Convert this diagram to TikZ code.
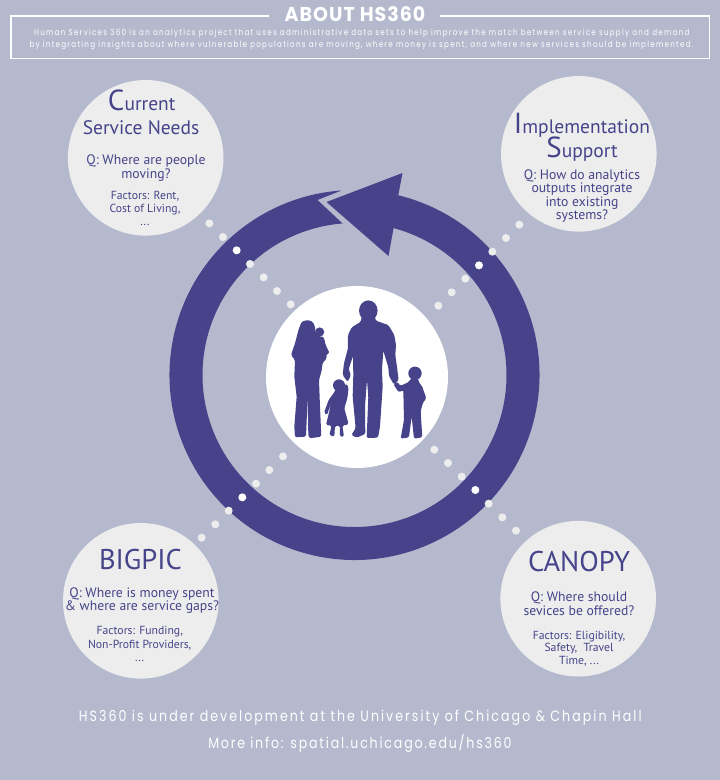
\documentclass[tikz,border=0pt]{standalone}
\usepackage{fontspec}
\setmainfont{PT Sans}
\newfontfamily\hdfont[FakeStretch=0.95,LetterSpace=5]{Poppins}
\newfontfamily\bodyfont[FakeStretch=0.84,LetterSpace=15]{Poppins}
\newfontfamily\footfont[FakeStretch=0.84,LetterSpace=13.6]{Poppins}
\newfontfamily\footfontb[FakeStretch=0.84,LetterSpace=12]{Poppins}
\definecolor{bgc}{HTML}{B4B9CD}
\definecolor{pur}{HTML}{46438A}
\definecolor{pale}{HTML}{EDEDED}
\newcommand{\fs}[2]{\fontsize{#1}{#2}\selectfont}
\newcommand{\initial}[1]{{\fontsize{29}{30}\selectfont #1}}
\tikzset{
 bubble/.style={circle,fill=pale,inner sep=0pt,minimum size=155.6pt},
 tline/.style={text=pur,anchor=base,inner sep=0pt},
 tt/.style={tline,font=\fs{19.5}{22}},
 tn/.style={tline,font=\fs{28.5}{30}},
 tq/.style={tline,font=\fs{13.7}{15}},
 tf/.style={tline,font=\fs{11.7}{13}},
 wtext/.style={text=white,anchor=base,inner sep=0pt},
 dotp/.style={circle,fill=pale,inner sep=0pt,minimum size=8pt},
 dotw/.style={circle,fill=white,inner sep=0pt,minimum size=8pt},
 sil/.style={fill=pur,draw=none,rounded corners=1.5pt}
}
\begin{document}
\begin{tikzpicture}[x=1pt,y=-1pt]
\useasboundingbox (0,0) rectangle (720,780);
\fill[bgc] (0,0) rectangle (720,780);
% frame
\coordinate (fa) at (268.6,15.7);
\coordinate (fb) at (10.6,15.7);
\coordinate (fc) at (10.6,58.5);
\coordinate (fd) at (709.4,58.5);
\coordinate (fe) at (709.4,15.7);
\coordinate (ff) at (440,15.7);
\draw[white,line width=1.8pt] (fa) -- (fb) -- (fc) -- (fd) -- (fe) -- (ff);
\node[wtext] (title) at (355,21.7) {\hdfont\bfseries\fs{20}{24}ABOUT HS360};
\node[wtext] (b1) at (361.8,35.7) {\bodyfont\fs{8.5}{10}Human Services 360 is an analytics project that uses administrative data sets to help improve the match between service supply and demand};
\node[wtext] (b2) at (361.5,47.3) {\bodyfont\fs{8.5}{10}by integrating insights about where vulnerable populations are moving, where money is spent, and where new services should be implemented.};
% bubbles
\node[bubble] (cur) at (145.7,157.8) {};
\node[bubble] (imp) at (578.8,153.8) {};
\node[bubble] (big) at (140.8,600.8) {};
\node[bubble] (can) at (578.2,598.7) {};
% ring
\begin{scope}[shift={(354.5,375)},x=1pt,y=1pt]
\fill[pur] (76.3:185) arc[start angle=76.3,end angle=-266,radius=185pt]
  -- (-37,175) -- (94.5:152) arc[start angle=94.5,end angle=435.1,radius=152pt]
  -- (34,119) -- (-28,173) -- (48,202) -- cycle;
\end{scope}
% centre
\node[circle,fill=white,inner sep=0pt,minimum size=182pt] (mid) at (357,377) {};
% dots
\foreach \n/\x/\y in {a/178/190,b/219/231,d/300/312,e/341/352,f/381/393,g/422/433,
 h/1108/194,i/1068/234,j/1027/275,l/946/356,m/905/397,n/865/437,
 o/155/1133,p/196/1093,q/236/1052,s/318/971,t/358/930,u/399/889,
 v/853/869,w/894/909,x/935/950,z/1016/1031,y/1057/1072,k/1098/1112}
 \node[dotp] (dot\n) at ({150+\x/3},{160+\y/3}) {};
\foreach \n/\x/\y in {a/260/271,b/987/316,c/277/1012,d/976/990}
 \node[dotw] (wdot\n) at ({150+\x/3},{160+\y/3}) {};
% silhouettes
\begin{scope}[shift={(260,280)},x=0.3333pt,y=-0.3333pt]
% woman + baby
\fill[sil] (143,120) -- (158,125) -- (165,140) -- (167,162) -- (178,170) -- (191,170) -- (197,195) -- (209,220) -- (199,222) -- (200,236) -- (188,248) -- (185,272) -- (177,300) -- (180,380) -- (184,470) -- (148,475) -- (145,465) -- (143,350) -- (138,470) -- (105,472) -- (103,440) -- (110,350) -- (103,290) -- (105,240) -- (93,225) -- (105,190) -- (116,148) -- (125,125) -- cycle;
\fill[sil] (179,156) circle[radius=4.6pt];
% man
\fill[sil] (325,92) ellipse[x radius=9.3pt,y radius=10.3pt];
\fill[sil] (345,108) -- (347,122) -- (385,135) -- (403,165) -- (408,195) -- (406,225) -- (412,268) -- (416,300) -- (402,314) -- (387,288) -- (385,262) -- (370,212) -- (366,270) -- (368,320) -- (360,440) -- (354,473) -- (320,474) -- (325,350) -- (321,300) -- (315,380) -- (316,462) -- (290,473) -- (274,465) -- (287,445) -- (278,350) -- (280,285) -- (279,228) -- (266,268) -- (273,285) -- (263,306) -- (248,285) -- (252,250) -- (264,205) -- (264,165) -- (275,142) -- (303,125) -- (305,108) -- cycle;
% girl
\fill[sil] (237,316) circle[radius=6pt];
\fill[sil] (250,322) -- (258,310) -- (266,322) -- (262,355) -- (253,385) -- (266,433) -- (247,437) -- (252,470) -- (240,470) -- (240,438) -- (225,438) -- (223,470) -- (208,465) -- (215,437) -- (198,435) -- (214,368) -- (201,405) -- (192,398) -- (207,358) -- (223,337) -- (228,325) -- cycle;
% boy
\fill[sil] (465,280) circle[radius=6.7pt];
\fill[sil] (475,295) -- (477,308) -- (486,318) -- (499,355) -- (488,370) -- (482,395) -- (487,472) -- (462,476) -- (455,410) -- (447,472) -- (422,476) -- (432,420) -- (430,330) -- (416,337) -- (400,312) -- (412,305) -- (421,318) -- (448,305) -- (452,295) -- cycle;
\end{scope}
% bubble texts
\node[tt] (t1a) at (141.7,110.7) {\initial{C}urrent};
\node[tt] (t1b) at (141,134) {Service Needs};
\node[tq] (t1q) at (146,164) {Q: Where are people};
\node[tq] (t1r) at (146,178) {moving?};
\node[tf] (t1f) at (145,199) {Factors: Rent,};
\node[tf] (t1g) at (145,212) {Cost of Living,};
\node[tf] (t1h) at (145,225) {...};
\node[tt] (t2a) at (582,133) {\initial{I}mplementation};
\node[tt] (t2b) at (582,157) {\initial{S}upport};
\node[tq] (t2q) at (582,179) {Q: How do analytics};
\node[tq] (t2r) at (582,192) {outputs integrate};
\node[tq] (t2s) at (582,206) {into existing};
\node[tq] (t2t) at (582,219) {systems?};
\node[tn] (t3a) at (140.5,569) {BIGPIC};
\node[tq] (t3q) at (142,597.7) {Q: Where is money spent};
\node[tq] (t3r) at (142,610) {\& where are service gaps?};
\node[tf] (t3f) at (139.7,634) {Factors: Funding,};
\node[tf] (t3g) at (139.7,648) {Non-Profit Providers,};
\node[tf] (t3h) at (139.7,661) {...};
\node[tn] (t4a) at (579,571.7) {CANOPY};
\node[tq] (t4q) at (579,601) {Q: Where should};
\node[tq] (t4r) at (579,615.7) {sevices be offered?};
\node[tf] (t4f) at (579,639) {Factors: Eligibility,};
\node[tf] (t4g) at (579,651.7) {Safety,~ Travel};
\node[tf] (t4h) at (579,664) {Time, ...};
% footer
\node[wtext] (f1) at (360.3,721) {\footfont\fs{15}{18}HS360 is under development at the University of Chicago \& Chapin Hall};
\node[wtext] (f2) at (360,748) {\footfontb\fs{15}{18}More info: spatial.uchicago.edu/hs360};
\end{tikzpicture}
\end{document}
